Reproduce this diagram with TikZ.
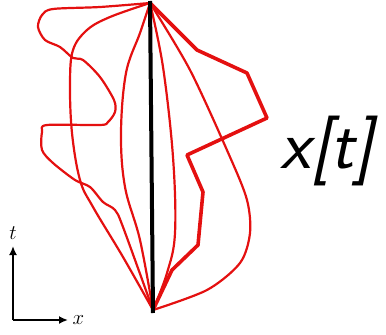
\documentclass[tikz,border=0pt]{standalone}
\usepackage{xcolor}
\usepackage{tikz}
\usetikzlibrary{positioning,arrows.meta}
\definecolor{pathred}{RGB}{228,16,16}
\tikzset{
  thinpath/.style={draw=pathred, line width=2.2pt, line join=round, line cap=round},
  thickpath/.style={draw=pathred, line width=3.6pt, line join=round, line cap=round},
  classical/.style={draw=black, line width=4pt},
  axis/.style={draw=black, line width=2.6pt, -{Latex[length=9pt,width=8pt]}}
}

\begin{document}
\begin{tikzpicture}[x=1pt,y=-1pt]
                \useasboundingbox (0,0) rectangle (386,335);
                % end points of every path
                \coordinate (top) at (150,3);
                \coordinate (bottom) at (153,310);
                % left side paths
                \draw[thinpath] plot[smooth, tension=0.5] coordinates {(top) (100,7) (53,9) (42,15) (38,27) (45,40) (60,47) (73,58) (83,60) (100,77) (114,100) (115,112) (108,122) (100,125) (47,125) (42,132) (42,150) (53,163) (75,180) (90,187) (103,202) (115,210) (123,227) (bottom)};
                \draw[thinpath] plot[smooth, tension=0.6] coordinates {(top) (110,17) (87,30) (73,50) (70,83) (72,133) (80,180) (93,207) (123,257) (bottom)};
                \draw[thinpath] plot[smooth, tension=0.6] coordinates {(top) (140,33) (126,73) (121,133) (125,187) (140,240) (bottom)};
                % right side paths
                \draw[thinpath] plot[smooth, tension=0.6] coordinates {(top) (163,67) (173,157) (175,233) (167,273) (bottom)};
                \draw[thinpath] plot[smooth, tension=0.5] coordinates {(top) (190,70) (230,157) (247,200) (250,233) (240,263) (207,290) (bottom)};
                \draw[thickpath] (top) -- (197,50) -- (247,73) -- (267,118) -- (187,155) -- (203,192) -- (198,245) -- (172,270) -- (bottom);
                % classical path
                \draw[classical] (150,1) -- (153,313);
                \node[font=\sffamily\itshape\fontsize{70}{74}\selectfont, inner sep=0pt] (label) at (327,151) {x[t]};
                % axes
                \coordinate (origin) at (13,320);
                \draw[axis] (origin) -- (13,246) node[above=2pt, font=\fontsize{21}{24}\selectfont] (tlabel) {$t$};
                \draw[axis] (origin) -- (68,320) node[right=0pt, font=\fontsize{21}{24}\selectfont] (xlabel) {$x$};
            \end{tikzpicture}
\end{document}
